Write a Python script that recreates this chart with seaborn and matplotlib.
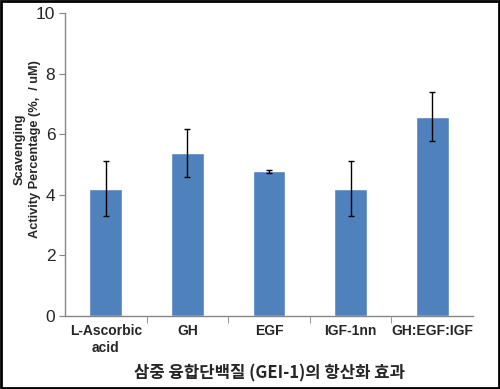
"""
Antioxidant effect of triple fusion protein (GEI-1) - bar chart with error bars
"""

import numpy as np
import pandas as pd
import matplotlib
matplotlib.use("Agg")
import matplotlib.pyplot as plt
import seaborn as sns
from matplotlib.patches import Rectangle

# Data
categories = ['L-Ascorbic\nacid', 'GH', 'EGF', 'IGF-1nn', 'GH:EGF:IGF']
values = [4.2, 5.38, 4.78, 4.2, 6.58]
errors = [0.9, 0.8, 0.05, 0.9, 0.8]
y_ticks = [0, 2, 4, 6, 8, 10]

sns.set_style("white")
plt.rcParams['font.family'] = ['Liberation Sans', 'Noto Sans CJK KR', 'DejaVu Sans']

df = pd.DataFrame({'group': categories, 'value': values})

fig = plt.figure(figsize=(5.0, 3.89), dpi=100)
ax = fig.add_axes([0.13, 0.1877, 0.816, 0.779])

sns.barplot(data=df, x='group', y='value', color='#4F81BD', saturation=1,
            width=0.4, errorbar=None, ax=ax)
ax.errorbar(np.arange(len(values)), values, yerr=errors, fmt='none',
            ecolor='black', elinewidth=1, capsize=2.5, capthick=1)

ax.set_xlim(-0.5, len(categories) - 0.5)
ax.set_ylim(0, 10)
ax.set_yticks(y_ticks)
ax.tick_params(axis='y', labelsize=12.5, length=4, color='#868686', direction='out', left=True, pad=3)
ax.tick_params(axis='x', which='major', length=0, labelsize=10, pad=6)
ax.set_xticks(np.arange(0.5, len(categories) - 0.5, 1.0), minor=True)
ax.tick_params(axis='x', which='minor', length=5, color='#868686', direction='out', bottom=True)
for lbl in ax.get_xticklabels():
    lbl.set_fontweight('bold')

for side in ['top', 'right']:
    ax.spines[side].set_visible(False)
for side in ['left', 'bottom']:
    ax.spines[side].set_color('#868686')
    ax.spines[side].set_linewidth(1)

ax.set_ylabel('Scavenging\nActivity Percentage (%,  / uM)', fontsize=9.2,
              fontweight='bold', linespacing=1.45)
ax.yaxis.set_label_coords(-0.058, 0.55)
ax.set_xlabel('삼중 융합단백질 (GEI-1)의 항산화 효과', fontsize=12,
              fontweight='bold', labelpad=7,
              family=['Noto Sans CJK KR', 'Liberation Sans'])

# outer frame around the whole figure
fig.patches.append(Rectangle((0.002, 0.003), 0.996, 0.994, transform=fig.transFigure,
                             fill=False, edgecolor='black', linewidth=2))

fig.savefig('out.png', dpi=100)
